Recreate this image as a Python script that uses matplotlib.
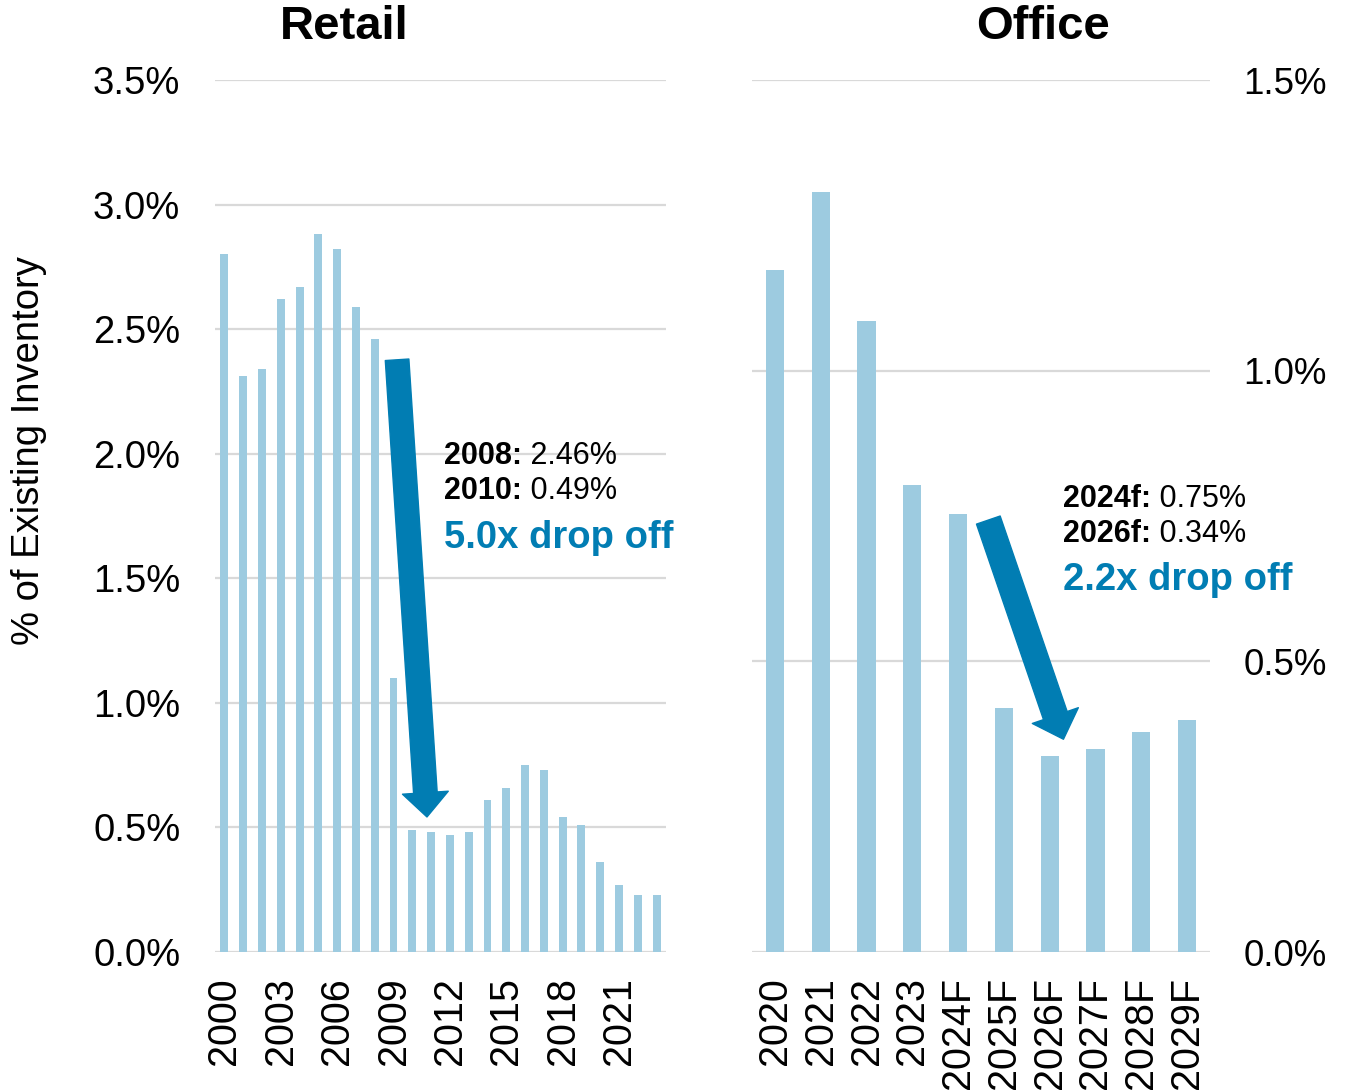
import matplotlib
matplotlib.use("Agg")
import matplotlib.pyplot as plt
import numpy as np

plt.rcParams['font.family'] = ['Liberation Sans', 'DejaVu Sans']

# retail completions, % of existing inventory
retail_years = list(range(2000, 2024))
retail_vals = [2.80, 2.31, 2.34, 2.62, 2.67, 2.88, 2.82, 2.59, 2.46, 1.10,
               0.49, 0.48, 0.47, 0.48, 0.61, 0.66, 0.75, 0.73, 0.54, 0.51,
               0.36, 0.27, 0.23, 0.23]
retail_ticks = [2000, 2003, 2006, 2009, 2012, 2015, 2018, 2021]

office_labels = ['2020', '2021', '2022', '2023', '2024F', '2025F', '2026F',
                 '2027F', '2028F', '2029F']
office_vals = [1.174, 1.308, 1.085, 0.803, 0.753, 0.42, 0.337, 0.35, 0.378, 0.399]

bar_color = '#9dcbe0'
blue = '#017db3'
grid_color = '#d9d9d9'

fig = plt.figure(figsize=(13.46, 10.9), dpi=100)
W, H = 1346, 1090
ax1 = fig.add_axes([215 / W, 138 / H, 451 / W, 872 / H])
ax2 = fig.add_axes([752 / W, 138 / H, 458 / W, 872 / H])

for ax in (ax1, ax2):
    for s in ax.spines.values():
        s.set_visible(False)
    ax.tick_params(length=0)
    ax.set_axisbelow(True)
    ax.grid(axis='y', color=grid_color, lw=1.6)

# --- Retail ---
x1 = np.arange(len(retail_years))
ax1.bar(x1, retail_vals, width=0.42, color=bar_color, zorder=2)
ax1.set_xlim(-0.5, len(retail_years) - 0.5)
ax1.set_ylim(0, 3.5)
ax1.set_yticks(np.arange(0, 3.51, 0.5))
ax1.set_yticklabels([f'{v:.1f}%' for v in np.arange(0, 3.51, 0.5)], fontsize=27.5)
ax1.tick_params(axis='y', pad=25)
ax1.set_xticks([retail_years.index(y) for y in retail_ticks])
ax1.set_xticklabels([str(y) for y in retail_ticks], rotation=90, fontsize=28.5)
ax1.tick_params(axis='x', pad=18)
ax1.set_ylabel('% of Existing Inventory', fontsize=27.5)
ax1.yaxis.set_label_coords(-168 / 451, 0.575)

# --- Office ---
x2 = np.arange(len(office_labels))
ax2.bar(x2, office_vals, width=0.4, color=bar_color, zorder=2)
ax2.set_xlim(-0.5, len(office_labels) - 0.5)
ax2.set_ylim(0, 1.5)
ax2.yaxis.tick_right()
ax2.set_yticks(np.arange(0, 1.51, 0.5))
ax2.set_yticklabels([f'{v:.1f}%' for v in np.arange(0, 1.51, 0.5)], fontsize=26.5)
ax2.tick_params(axis='y', pad=24)
ax2.set_xticks(x2)
ax2.set_xticklabels(office_labels, rotation=90, fontsize=28.5)
ax2.tick_params(axis='x', pad=18)

fig.text(344 / W, 1 - 27 / H, 'Retail', fontsize=34, fontweight='bold',
         ha='center', va='center')
fig.text(1043 / W, 1 - 27 / H, 'Office', fontsize=34, fontweight='bold',
         ha='center', va='center')


def callout(ax, x, ys, bold, rest, headline):
    for y, b, r in zip(ys[:2], bold, rest):
        t = ax.text(x, y, b, fontsize=22, fontweight='bold', va='center', ha='left')
        ax.annotate(' ' + r, xy=(1, 0), xycoords=t, fontsize=22,
                    va='bottom', ha='left')
    ax.text(x, ys[2], headline, fontsize=27.5, fontweight='bold', color=blue,
            va='center', ha='left')


callout(ax1, 11.7, [1.99, 1.85, 1.66], ['2008:', '2010:'], ['2.46%', '0.49%'],
        '5.0x drop off')
callout(ax2, 6.29, [0.779, 0.719, 0.64], ['2024f:', '2026f:'], ['0.75%', '0.34%'],
        '2.2x drop off')

ax1.annotate('', xy=(10.78, 0.542), xytext=(9.19, 2.377),
             arrowprops=dict(arrowstyle='simple,head_length=1.75,head_width=3.3,tail_width=1.7',
                             mutation_scale=10, color=blue, shrinkA=0, shrinkB=0),
             zorder=5)
ax2.annotate('', xy=(6.30, 0.366), xytext=(4.66, 0.743),
             arrowprops=dict(arrowstyle='simple,head_length=1.8,head_width=3.5,tail_width=1.8',
                             mutation_scale=10, color=blue, shrinkA=0, shrinkB=0),
             zorder=5)

fig.savefig('out.png', dpi=100)
